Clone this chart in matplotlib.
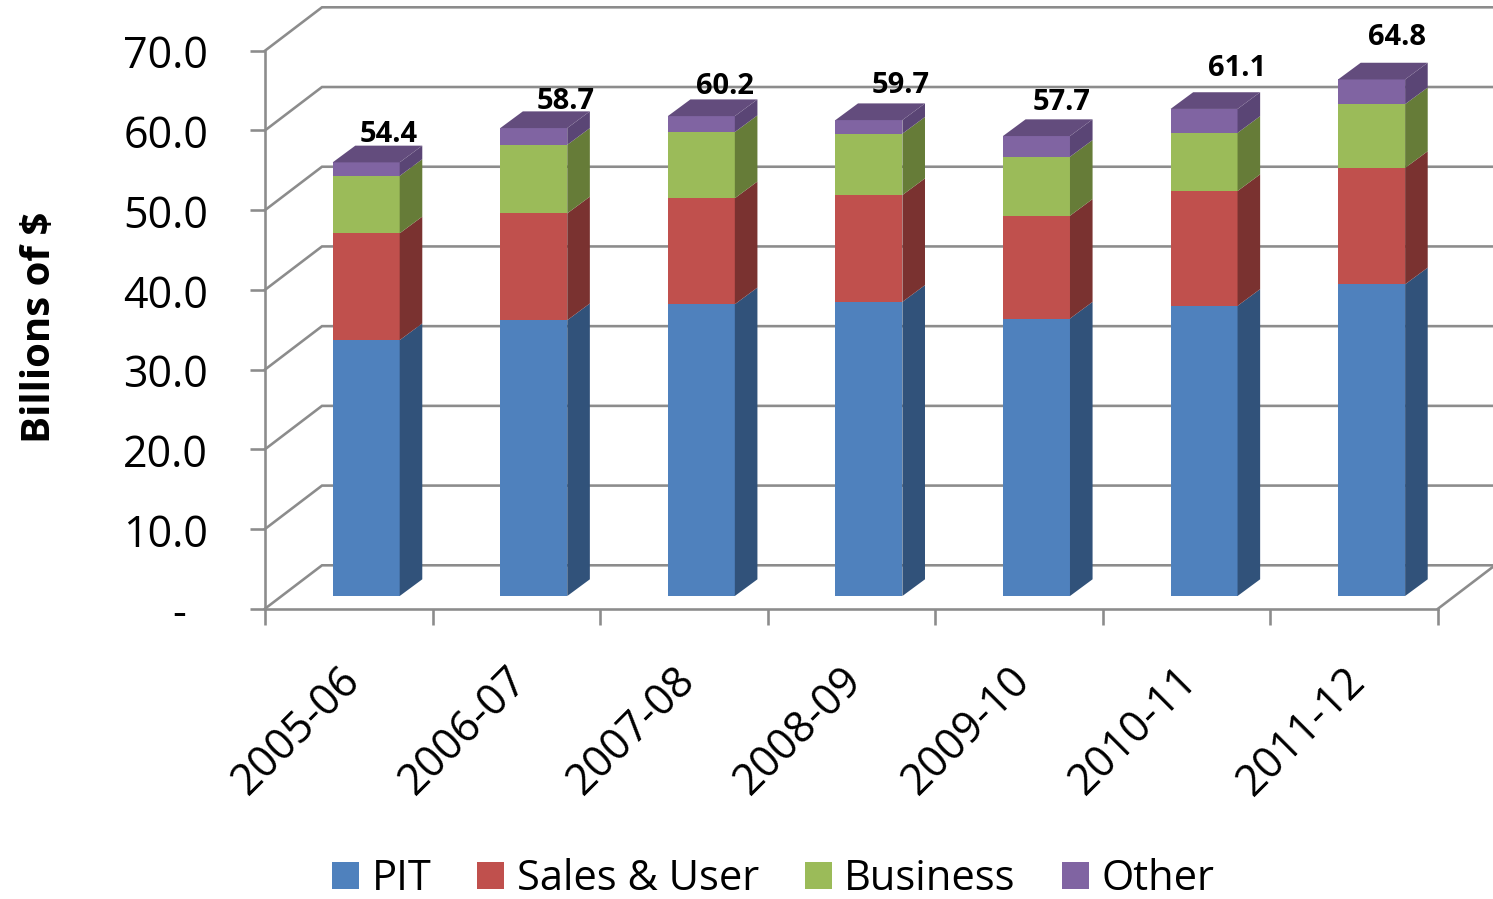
import numpy as np
import matplotlib
matplotlib.use("Agg")
import matplotlib.pyplot as plt
from matplotlib.patches import Patch
from matplotlib.transforms import ScaledTranslation

plt.rcParams['font.family'] = ['Open Sans', 'DejaVu Sans']

years = ['2005-06', '2006-07', '2007-08', '2008-09', '2009-10', '2010-11', '2011-12']
series_names = ['PIT', 'Sales & User', 'Business', 'Other']
pit = [32.1, 34.6, 36.6, 36.9, 34.8, 36.4, 39.1]
sales = [13.4, 13.4, 13.3, 13.4, 12.9, 14.4, 14.6]
business = [7.2, 8.6, 8.3, 7.7, 7.4, 7.3, 8.0]
other = [1.7, 2.1, 2.0, 1.7, 2.6, 3.0, 3.1]
totals = [54.4, 58.7, 60.2, 59.7, 57.7, 61.1, 64.8]
y_ticks = [0, 10, 20, 30, 40, 50, 60, 70]

front_colors = ['#4F81BD', '#C0504D', '#9BBB59', '#8064A2']
side_colors = ['#31527A', '#7A3230', '#667C38', '#5A4575']
top_color = '#634C7D'
grid_color = '#8C8C8C'

W, H = 1493, 899
fig = plt.figure(figsize=(W / 100, H / 100), dpi=100, facecolor='white')
L, R, T, B = 265, 1438, 50.7, 608.7
ax = fig.add_axes([L / W, 1 - B / H, (R - L) / W, (B - T) / H])
ax.set_xlim(-0.5, 6.5)
ax.set_ylim(0, 70)
ax.patch.set_visible(False)
px_x = (R - L) / 7
px_y = (B - T) / 70

# depth of the pseudo 3D box, in data units
DX, DY = 57 / px_x, 43.4 / px_y
lw = 2.6 * 0.72

# walls
for v in y_ticks:
    ax.plot([-0.5, -0.5 + DX, 6.5 + DX], [v, v + DY, v + DY], color=grid_color,
            lw=lw, clip_on=False, zorder=1, solid_joinstyle='miter')
ax.plot([6.5, 6.5 + DX], [0, DY], color=grid_color, lw=lw, clip_on=False, zorder=1)

# bars
bar_w = 67 / px_x
off_x, off_y = 17.4 / px_x, 12.7 / px_y
dep_x, dep_y = 22.6 / px_x, 16.7 / px_y
series = [pit, sales, business, other]
bottom = np.zeros(len(years))
xs = np.arange(len(years))
for k, vals in enumerate(series):
    vals = np.array(vals)
    ax.bar(xs + off_x, vals, bottom=bottom + off_y, width=bar_w, color=front_colors[k],
           clip_on=False, zorder=3, linewidth=0)
    for i in xs:
        xr = i + off_x + bar_w / 2
        y0 = bottom[i] + off_y
        y1 = y0 + vals[i]
        ax.fill([xr, xr + dep_x, xr + dep_x, xr], [y0, y0 + dep_y, y1 + dep_y, y1],
                color=side_colors[k], clip_on=False, zorder=3, linewidth=0)
    bottom = bottom + vals
for i in xs:
    xl = i + off_x - bar_w / 2
    xr = xl + bar_w
    y1 = bottom[i] + off_y
    ax.fill([xl, xr, xr + dep_x, xl + dep_x], [y1, y1, y1 + dep_y, y1 + dep_y],
            color=top_color, clip_on=False, zorder=3, linewidth=0)

# total labels
label_dx_px = [23, 32, 24, 32, 25, 33, 25]
label_dy_px = [28, 27, 30, 35, 34, 40, 42]
for i, t in enumerate(totals):
    ax.annotate(f'{t:.1f}', (i + off_x, t + off_y),
                xytext=(label_dx_px[i] * 0.72, label_dy_px[i] * 0.72),
                textcoords='offset points', ha='center', va='center',
                fontsize=21, fontweight='bold', color='black', annotation_clip=False, zorder=5)

# axes
for s in ['top', 'right']:
    ax.spines[s].set_visible(False)
for s in ['left', 'bottom']:
    ax.spines[s].set_color(grid_color)
    ax.spines[s].set_linewidth(lw)
ax.set_yticks(y_ticks)
ax.set_yticklabels(['-' if v == 0 else f'{v:.1f}' for v in y_ticks])
ax.tick_params(axis='y', length=15 * 0.72, width=lw, color=grid_color, pad=30.2,
               labelsize=31, labelcolor='black')
ax.set_xticks(np.arange(-0.5, 7, 1))
ax.set_xticklabels([])
ax.tick_params(axis='x', which='major', length=15.5 * 0.72, width=lw, color=grid_color)
ax.set_xticks(xs, minor=True)
ax.set_xticklabels(years, minor=True, rotation=45, ha='right', rotation_mode='anchor',
                   fontsize=31, color='black')
ax.tick_params(axis='x', which='minor', length=0, pad=36)
for lab in ax.get_xticklabels(minor=True):
    lab.set_transform(lab.get_transform() + ScaledTranslation(-11 / 100, 0, fig.dpi_scale_trans))
for lab in ax.get_yticklabels():
    lab.set_transform(lab.get_transform() + ScaledTranslation(0, -1 / 100, fig.dpi_scale_trans))
zero_label = ax.get_yticklabels()[0]
zero_label.set_transform(zero_label.get_transform() + ScaledTranslation(-22 / 100, 0, fig.dpi_scale_trans))

ax.set_ylabel('Billions of $', fontsize=29, fontweight='bold', color='black')
ax.yaxis.set_label_coords((59 - L) / (R - L), (B - 327) / (B - T))

handles = [Patch(facecolor=c, edgecolor='none', label=n) for c, n in zip(front_colors, series_names)]
fig.legend(handles=handles, ncols=4, loc='center', bbox_to_anchor=(773 / W, 1 - 879.5 / H),
           frameon=False, fontsize=30, handlelength=0.65, handleheight=0.62,
           handletextpad=0.3, columnspacing=1.1, borderpad=0, borderaxespad=0)

fig.savefig('out.png', dpi=100, facecolor='white')
